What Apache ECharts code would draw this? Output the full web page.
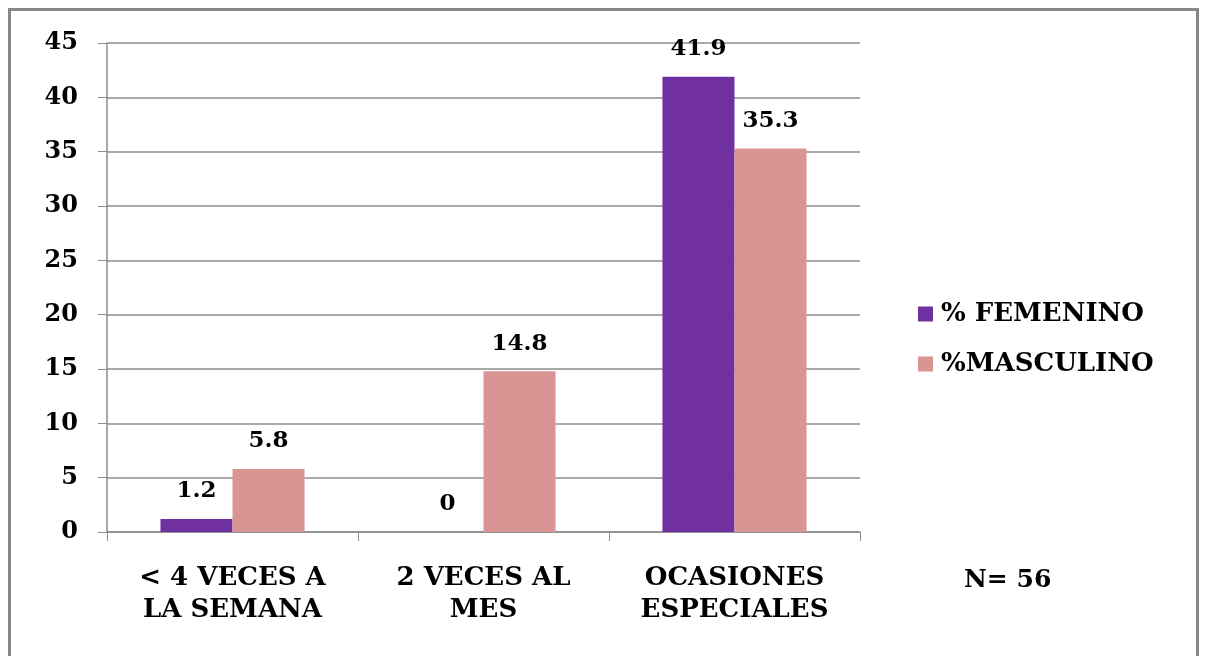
<!DOCTYPE html>
<html>
<head>
<meta charset="utf-8">
<script src="https://cdn.jsdelivr.net/npm/echarts@6/dist/echarts.min.js"></script>
<style>
  html, body { margin: 0; padding: 0; background: #fff; }
  #frame {
    position: absolute; left: 8px; top: 8px; width: 1191px; height: 700px;
    border: 3px solid #878787; box-sizing: border-box;
  }
  #chart { width: 1209px; height: 656px; }
</style>
</head>
<body>
<div id="frame"></div>
<div id="chart"></div>
<script>
const categories = ['< 4 VECES A\nLA SEMANA', '2 VECES AL\nMES', 'OCASIONES\nESPECIALES'];
const femenino = [1.2, 0, 41.9];
const masculino = [5.8, 14.8, 35.3];
const seriesNames = ['% FEMENINO', '%MASCULINO'];

const chartDom = document.getElementById('chart');
const myChart = echarts.init(chartDom);
const serif = '"DejaVu Serif", "Liberation Serif", serif';
const labelStyle = {
  show: true,
  position: 'top',
  distance: 16,
  color: '#000',
  fontFamily: serif,
  fontWeight: 'bold',
  fontSize: 23
};
const option = {
  animation: false,
  textStyle: { fontFamily: serif },
  grid: { left: 107, right: 349, top: 43, bottom: 124 },
  legend: {
    orient: 'vertical',
    left: 913,
    top: 296,
    itemWidth: 15,
    itemHeight: 15,
    itemGap: 24,
    icon: 'rect',
    data: seriesNames,
    textStyle: { color: '#000', fontFamily: serif, fontWeight: 'bold', fontSize: 26, padding: [0, 0, 0, 3] }
  },
  graphic: [{
    type: 'text',
    left: 964,
    top: 568,
    style: { text: 'N= 56', fill: '#000', font: 'bold 25px ' + serif }
  }],
  xAxis: {
    type: 'category',
    data: categories,
    axisLine: { lineStyle: { color: '#8c8c8c', width: 1.5 } },
    axisTick: { show: true, length: 9, lineStyle: { color: '#8c8c8c' } },
    axisLabel: {
      color: '#000', fontFamily: serif, fontWeight: 'bold', fontSize: 26,
      margin: 30, lineHeight: 32
    }
  },
  yAxis: {
    type: 'value',
    min: 0,
    max: 45,
    interval: 5,
    axisLine: { show: true, lineStyle: { color: '#8c8c8c', width: 1.5 } },
    axisTick: { show: true, length: 9, lineStyle: { color: '#8c8c8c' } },
    splitLine: { lineStyle: { color: '#8c8c8c', width: 1.5 } },
    axisLabel: { color: '#000', fontFamily: serif, fontWeight: 'bold', fontSize: 24, margin: 29 }
  },
  series: [
    {
      name: seriesNames[0],
      type: 'bar',
      data: femenino,
      barGap: '0%',
      barCategoryGap: '42.6%',
      itemStyle: { color: '#7030A0' },
      label: labelStyle
    },
    {
      name: seriesNames[1],
      type: 'bar',
      data: masculino,
      barGap: '0%',
      barCategoryGap: '42.6%',
      itemStyle: { color: '#D99594' },
      label: labelStyle
    }
  ]
};
option && myChart.setOption(option);
window.addEventListener('resize', function () {
  myChart.resize();
});
</script>
</body>
</html>
